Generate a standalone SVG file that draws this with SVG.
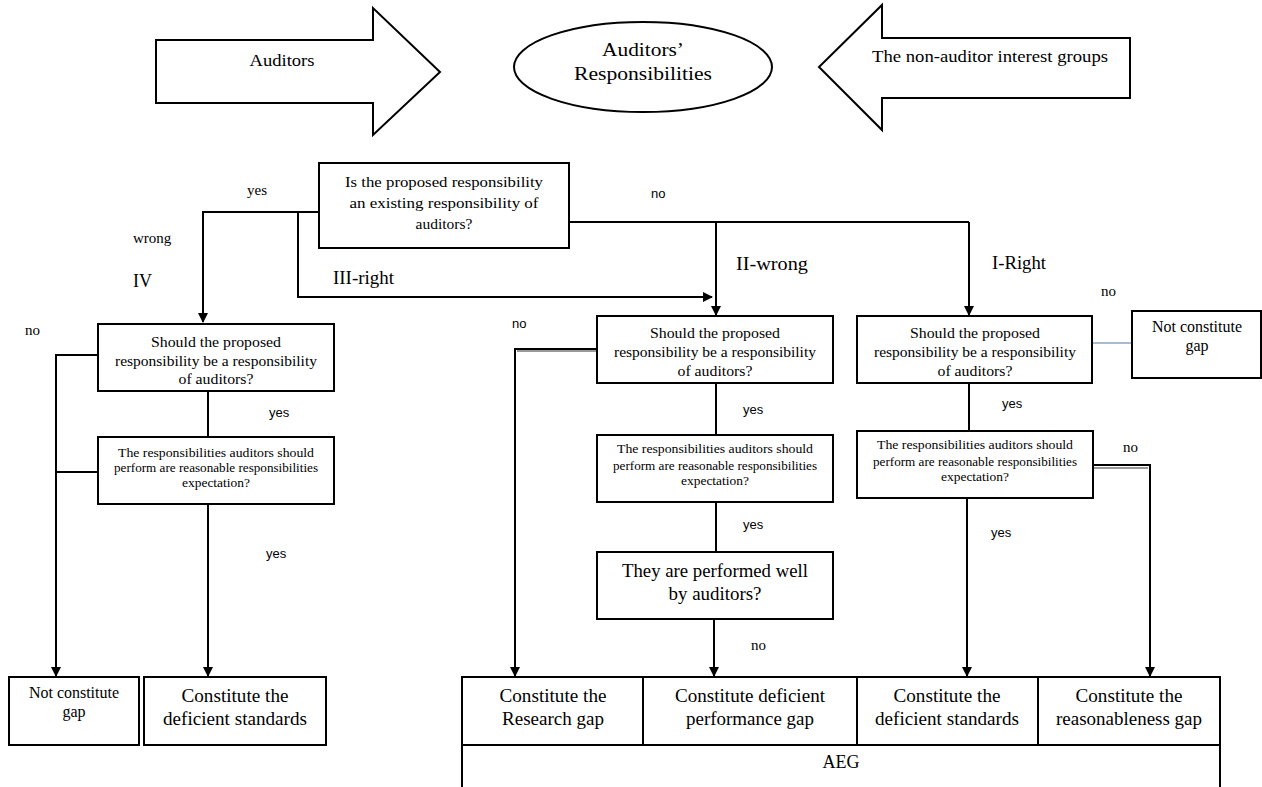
<svg xmlns="http://www.w3.org/2000/svg" width="1262" height="787" viewBox="0 0 1262 787">
<style>
.box{fill:#fff;stroke:#000;stroke-width:2}
.ln{fill:none;stroke:#000;stroke-width:2}
.sh{fill:none;stroke:#999;stroke-width:2}
.t{font-family:"Liberation Serif",serif;fill:#000;text-anchor:middle}
.q{font-size:15.5px}
.s{font-size:12px}
.b{font-size:18.5px}
.lab{font-family:"Liberation Serif",serif;font-size:18px;fill:#000}
.sans{font-family:"Liberation Sans",sans-serif;font-size:13px;fill:#000}
.ser{font-family:"Liberation Serif",serif;font-size:15px;fill:#000}
</style>
<defs>
<marker id="ah" markerWidth="10" markerHeight="10" refX="9" refY="5" orient="auto" markerUnits="userSpaceOnUse">
<path d="M0,0 L10,5 L0,10 Z" fill="#000"/>
</marker>
</defs>
<rect width="1262" height="787" fill="#fff"/>

<g id="auditors-arrow">
<path class="box" d="M156,40 H373 V8 L440,72 L373,135 V103 H156 Z"/>
<text class="t" x="282" y="66" font-size="17.5" textLength="65" lengthAdjust="spacingAndGlyphs">Auditors</text>
</g>
<g id="responsibilities">
<ellipse class="box" cx="643" cy="67" rx="129" ry="45"/>
<text class="t" x="643" y="56" font-size="19" textLength="82" lengthAdjust="spacingAndGlyphs">Auditors’</text>
<text class="t" x="643" y="80" font-size="19" textLength="138" lengthAdjust="spacingAndGlyphs">Responsibilities</text>
</g>
<g id="nonauditor-arrow">
<path class="box" d="M1130,38 H882 V5 L819,67 L882,130 V98 H1130 Z"/>
<text class="t" x="990" y="62" font-size="17" textLength="236" lengthAdjust="spacingAndGlyphs">The non-auditor interest groups</text>
</g>

<g id="connectors">
<polyline class="ln" points="319,212 203,212 203,322" marker-end="url(#ah)"/>
<polyline class="ln" points="298,212 298,297 712,297" marker-end="url(#ah)"/>
<line class="ln" x1="569" y1="222" x2="969" y2="222"/>
<polyline class="ln" points="716,222 716,315" marker-end="url(#ah)"/>
<polyline class="ln" points="969,222 969,315" marker-end="url(#ah)"/>
<polyline class="ln" points="98,355 56,355 56,676" marker-end="url(#ah)"/>
<line class="ln" x1="56" y1="472" x2="98" y2="472"/>
<line class="ln" x1="208" y1="391" x2="208" y2="437"/>
<polyline class="ln" points="208,504 208,676" marker-end="url(#ah)"/>
<polyline class="sh" points="597,351 517,351"/>
<polyline class="ln" points="597,349 515,349 515,676" marker-end="url(#ah)"/>
<line class="ln" x1="716" y1="383" x2="716" y2="435"/>
<line class="ln" x1="716" y1="502" x2="716" y2="552"/>
<polyline class="ln" points="714,619 714,676" marker-end="url(#ah)"/>
<line x1="1092" y1="343" x2="1132" y2="343" stroke="#4a7ab5" stroke-width="1"/>
<line class="ln" x1="969" y1="383" x2="969" y2="431"/>
<polyline class="ln" points="967,498 967,676" marker-end="url(#ah)"/>
<polyline class="sh" points="1093,468 1148,468"/>
<polyline class="ln" points="1093,465 1150,465 1150,676" marker-end="url(#ah)"/>
</g>

<g id="labels">
<text class="ser" x="247" y="195">yes</text>
<text class="ser" x="133" y="243" font-size="16">wrong</text>
<text class="lab" x="133" y="287">IV</text>
<text class="lab" x="333" y="284" textLength="61" lengthAdjust="spacingAndGlyphs">III-right</text>
<text class="sans" x="651" y="198">no</text>
<text class="lab" x="736" y="270" textLength="72" lengthAdjust="spacingAndGlyphs">II-wrong</text>
<text class="lab" x="992" y="269" textLength="54" lengthAdjust="spacingAndGlyphs">I-Right</text>
<text class="ser" x="1101" y="296">no</text>
<text class="sans" x="512" y="328">no</text>
<text class="ser" x="25" y="335">no</text>
<text class="sans" x="269" y="417">yes</text>
<text class="sans" x="266" y="558">yes</text>
<text class="sans" x="743" y="414">yes</text>
<text class="sans" x="743" y="529">yes</text>
<text class="ser" x="751" y="650">no</text>
<text class="sans" x="1002" y="408">yes</text>
<text class="ser" x="1123" y="452">no</text>
<text class="sans" x="991" y="537">yes</text>
</g>

<g id="q-main">
<rect class="box" x="319" y="163" width="250" height="85"/>
<text class="t q" x="444" y="187" textLength="198" lengthAdjust="spacingAndGlyphs">Is the proposed responsibility</text>
<text class="t q" x="444" y="208" textLength="189" lengthAdjust="spacingAndGlyphs">an existing responsibility of</text>
<text class="t q" x="444" y="229">auditors?</text>
</g>

<g id="q-iv-should">
<rect class="box" x="98" y="324" width="236" height="67"/>
<text class="t q" x="216" y="347" textLength="130" lengthAdjust="spacingAndGlyphs">Should the proposed</text>
<text class="t q" x="216" y="366" textLength="202" lengthAdjust="spacingAndGlyphs">responsibility be a responsibility</text>
<text class="t q" x="216" y="384" textLength="75" lengthAdjust="spacingAndGlyphs">of auditors?</text>
</g>
<g id="q-iv-reasonable">
<rect class="box" x="98" y="437" width="236" height="67"/>
<text class="t s" x="216" y="457" textLength="196" lengthAdjust="spacingAndGlyphs">The responsibilities auditors should</text>
<text class="t s" x="216" y="472" textLength="204" lengthAdjust="spacingAndGlyphs">perform are reasonable responsibilities</text>
<text class="t s" x="216" y="487" textLength="68" lengthAdjust="spacingAndGlyphs">expectation?</text>
</g>
<g id="iv-not-gap">
<rect class="box" x="9" y="677" width="130" height="68"/>
<text class="t" x="74" y="698" font-size="16" textLength="90" lengthAdjust="spacingAndGlyphs">Not constitute</text>
<text class="t" x="74" y="717" font-size="16">gap</text>
</g>
<g id="iv-deficient-standards">
<rect class="box" x="144" y="677" width="182" height="68"/>
<text class="t b" x="235" y="702" textLength="107" lengthAdjust="spacingAndGlyphs">Constitute the</text>
<text class="t b" x="235" y="725" textLength="144" lengthAdjust="spacingAndGlyphs">deficient standards</text>
</g>

<g id="q-ii-should">
<rect class="box" x="597" y="316" width="236" height="67"/>
<text class="t q" x="715" y="338" textLength="130" lengthAdjust="spacingAndGlyphs">Should the proposed</text>
<text class="t q" x="715" y="357" textLength="202" lengthAdjust="spacingAndGlyphs">responsibility be a responsibility</text>
<text class="t q" x="715" y="376" textLength="75" lengthAdjust="spacingAndGlyphs">of auditors?</text>
</g>
<g id="q-ii-reasonable">
<rect class="box" x="597" y="435" width="236" height="67"/>
<text class="t s" x="715" y="453" textLength="196" lengthAdjust="spacingAndGlyphs">The responsibilities auditors should</text>
<text class="t s" x="715" y="470" textLength="204" lengthAdjust="spacingAndGlyphs">perform are reasonable responsibilities</text>
<text class="t s" x="715" y="485" textLength="68" lengthAdjust="spacingAndGlyphs">expectation?</text>
</g>
<g id="q-ii-performed">
<rect class="box" x="597" y="552" width="236" height="67"/>
<text class="t b" x="715" y="577" textLength="186" lengthAdjust="spacingAndGlyphs">They are performed well</text>
<text class="t b" x="715" y="600" textLength="93" lengthAdjust="spacingAndGlyphs">by auditors?</text>
</g>

<g id="q-i-should">
<rect class="box" x="857" y="316" width="235" height="67"/>
<text class="t q" x="975" y="338" textLength="130" lengthAdjust="spacingAndGlyphs">Should the proposed</text>
<text class="t q" x="975" y="357" textLength="202" lengthAdjust="spacingAndGlyphs">responsibility be a responsibility</text>
<text class="t q" x="975" y="376" textLength="75" lengthAdjust="spacingAndGlyphs">of auditors?</text>
</g>
<g id="i-not-gap">
<rect class="box" x="1132" y="311" width="129" height="67"/>
<text class="t" x="1197" y="332" font-size="16" textLength="90" lengthAdjust="spacingAndGlyphs">Not constitute</text>
<text class="t" x="1197" y="351" font-size="16">gap</text>
</g>
<g id="q-i-reasonable">
<rect class="box" x="857" y="431" width="236" height="67"/>
<text class="t s" x="975" y="449" textLength="196" lengthAdjust="spacingAndGlyphs">The responsibilities auditors should</text>
<text class="t s" x="975" y="466" textLength="204" lengthAdjust="spacingAndGlyphs">perform are reasonable responsibilities</text>
<text class="t s" x="975" y="481" textLength="68" lengthAdjust="spacingAndGlyphs">expectation?</text>
</g>

<g id="aeg">
<path class="ln" d="M462,787 V677 H1220 V787 M462,745 H1220 M643,677 V745 M857,677 V745 M1038,677 V745"/>
<text class="t" x="841" y="768" font-size="18">AEG</text>
</g>
<g id="research-gap">
<text class="t b" x="553" y="702" textLength="107" lengthAdjust="spacingAndGlyphs">Constitute the</text>
<text class="t b" x="553" y="725" textLength="102" lengthAdjust="spacingAndGlyphs">Research gap</text>
</g>
<g id="performance-gap">
<text class="t b" x="750" y="702" textLength="150" lengthAdjust="spacingAndGlyphs">Constitute deficient</text>
<text class="t b" x="750" y="725" textLength="128" lengthAdjust="spacingAndGlyphs">performance gap</text>
</g>
<g id="deficient-standards">
<text class="t b" x="947" y="702" textLength="107" lengthAdjust="spacingAndGlyphs">Constitute the</text>
<text class="t b" x="947" y="725" textLength="144" lengthAdjust="spacingAndGlyphs">deficient standards</text>
</g>
<g id="reasonableness-gap">
<text class="t b" x="1129" y="702" textLength="107" lengthAdjust="spacingAndGlyphs">Constitute the</text>
<text class="t b" x="1129" y="725" textLength="146" lengthAdjust="spacingAndGlyphs">reasonableness gap</text>
</g>
</svg>
